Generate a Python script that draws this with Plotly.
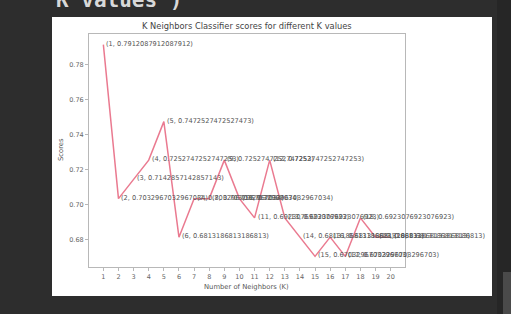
import plotly.graph_objects as go

# ---- data ----
k_values = list(range(1, 21))
knn_scores = [0.7912087912087912, 0.7032967032967034, 0.7142857142857143, 0.7252747252747253,
              0.7472527472527473, 0.6813186813186813, 0.7032967032967034, 0.7032967032967034,
              0.7252747252747253, 0.7032967032967034, 0.6923076923076923, 0.7252747252747253,
              0.6923076923076923, 0.6813186813186813, 0.6703296703296703, 0.6813186813186813,
              0.6703296703296703, 0.6923076923076923, 0.6813186813186813, 0.6813186813186813]
y_ticks = [0.68, 0.70, 0.72, 0.74, 0.76, 0.78]
y_tick_labels = ["0.68", "0.70", "0.72", "0.74", "0.76", "0.78"]
title_text = "K Neighbors Classifier scores for different K values"
x_title = "Number of Neighbors (K)"
y_title = "Scores"
code_text = "K values')"

W, H = 511, 314
L, R, T, B = 89, 405, 34, 267  # axes box in pixels


def px(x):
    return (x - L) / (R - L)


def py(y):
    return (B - y) / (B - T)


ymin, ymax = min(knn_scores), max(knn_scores)
pad = 0.05 * (ymax - ymin)

fig = go.Figure()
fig.add_trace(go.Scatter(x=k_values, y=knn_scores, mode="lines",
                         line=dict(color="#ea7a90", width=1.5), hoverinfo="skip"))

annotations = []
for k, s in zip(k_values, knn_scores):
    annotations.append(dict(x=k, y=s, xref="x", yref="y", text=str((k, s)),
                            showarrow=False, xanchor="left", yanchor="middle",
                            xshift=1, yshift=1,
                            font=dict(family="DejaVu Sans", size=6.6, color="#555555")))

annotations += [
    dict(x=px(247), y=py(26), xref="paper", yref="paper", text=title_text, showarrow=False,
         font=dict(family="DejaVu Sans", size=8.3, color="#444444"), xanchor="center", yanchor="middle"),
    dict(x=px(246), y=py(287), xref="paper", yref="paper", text=x_title, showarrow=False,
         font=dict(family="DejaVu Sans", size=6.8, color="#555555"), xanchor="center", yanchor="middle"),
    dict(x=px(61), y=py(150), xref="paper", yref="paper", text=y_title, showarrow=False, textangle=-90,
         font=dict(family="DejaVu Sans", size=6.8, color="#555555"), xanchor="center", yanchor="middle"),
    dict(x=px(54), y=py(14), xref="paper", yref="paper", text="<b>" + code_text + "</b>", showarrow=False,
         font=dict(family="DejaVu Sans Mono", size=21, color="#d8d8d8"), xanchor="left", yanchor="bottom"),
]

shapes = [
    dict(type="rect", xref="paper", yref="paper", x0=px(52), x1=px(492), y0=py(296), y1=py(17),
         fillcolor="white", line=dict(width=0), layer="below"),
    dict(type="rect", xref="paper", yref="paper", x0=px(497), x1=px(511), y0=py(314), y1=py(0),
         fillcolor="#262626", line=dict(width=0), layer="below"),
    dict(type="rect", xref="paper", yref="paper", x0=px(503), x1=px(511), y0=py(314), y1=py(272),
         fillcolor="#4a4a4a", line=dict(width=0), layer="below"),
]

fig.update_layout(
    width=W, height=H,
    margin=dict(l=L, r=W - R, t=T, b=H - B, pad=0),
    paper_bgcolor="#2d2d2d", plot_bgcolor="white",
    showlegend=False,
    annotations=annotations, shapes=shapes,
    xaxis=dict(range=[0.05, 20.95], tickmode="array", tickvals=k_values,
               ticktext=[str(k) for k in k_values], showgrid=False, zeroline=False,
               showline=True, mirror=True, linecolor="#b8b8b8", linewidth=1,
               ticks="outside", ticklen=3, tickcolor="#b8b8b8",
               tickfont=dict(family="DejaVu Sans", size=6.5, color="#666666")),
    yaxis=dict(range=[ymin - pad, ymax + pad], tickmode="array", tickvals=y_ticks,
               ticktext=y_tick_labels, showgrid=False, zeroline=False,
               showline=True, mirror=True, linecolor="#b8b8b8", linewidth=1,
               ticks="outside", ticklen=3, tickcolor="#b8b8b8",
               tickfont=dict(family="DejaVu Sans", size=6.5, color="#666666")),
)

fig.write_html("out.html", config={"displayModeBar": False, "staticPlot": True},
               post_script="document.body.style.margin='0';document.body.style.overflow='hidden';"
                           "document.body.style.background='#2d2d2d';")
